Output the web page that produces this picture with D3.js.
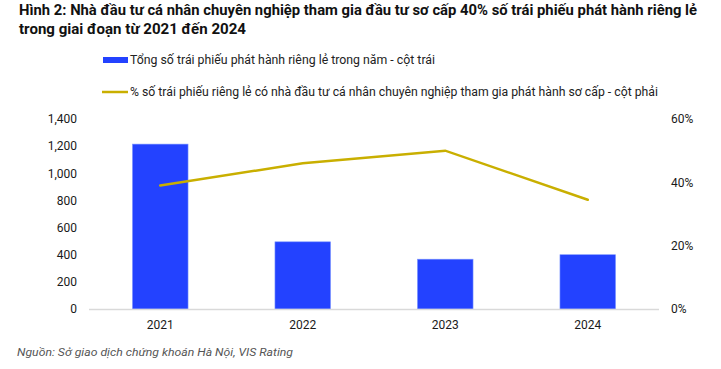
<!DOCTYPE html>
<html>
<head>
<meta charset="utf-8">
<script src="https://cdn.jsdelivr.net/npm/d3@7"></script>
<style>
  body { margin: 0; background: #fff; }
  text { font-family: Roboto, "Noto Sans", sans-serif; }
</style>
</head>
<body>
<svg width="721" height="369"></svg>
<script>
var years = ["2021", "2022", "2023", "2024"];
var bondCount = [1215, 495, 367, 400];
var proShare = [0.39, 0.46, 0.50, 0.345];
var leftTicks = [0, 200, 400, 600, 800, 1000, 1200, 1400];
var rightTicks = [0, 0.2, 0.4, 0.6];

var titleLines = [
    "Hình 2: Nhà đầu tư cá nhân chuyên nghiệp tham gia đầu tư sơ cấp 40% số trái phiếu phát hành riêng lẻ",
    "trong giai đoạn từ 2021 đến 2024"
];
var legendLabels = [
    "Tổng số trái phiếu phát hành riêng lẻ trong năm - cột trái",
    "% số trái phiếu riêng lẻ có nhà đầu tư cá nhân chuyên nghiệp tham gia phát hành sơ cấp - cột phải"
];
var sourceText = "Nguồn: Sở giao dịch chứng khoán Hà Nội, VIS Rating";

var svg = d3.select("svg");

var barColor = "#2342ff",
    lineColor = "#c9af00";

var x = d3.scaleBand()
    .domain(years)
    .range([89, 659])
    .paddingInner(0.61)
    .paddingOuter(0.305);

var yLeft = d3.scaleLinear().domain([0, 1400]).range([309, 119]);
var yRight = d3.scaleLinear().domain([0, 0.6]).range([309, 119]);

// title
svg.append("g").selectAll("text")
    .data(titleLines)
    .enter()
        .append("text")
        .attr("x", 19)
        .attr("y", function(d, i) { return 15 + i * 19; })
        .attr("font-size", 14)
        .attr("font-weight", "bold")
        .attr("fill", "#111")
        .attr("textLength", function(d, i) { return i == 0 ? 678 : 227; })
        .attr("lengthAdjust", "spacingAndGlyphs")
        .text(function(d) { return d; });

// legend
var legend = svg.append("g");
legend.append("rect")
    .attr("x", 103).attr("y", 57)
    .attr("width", 25).attr("height", 6)
    .attr("fill", barColor);
legend.append("line")
    .attr("x1", 102).attr("x2", 128)
    .attr("y1", 92).attr("y2", 92)
    .attr("stroke", lineColor)
    .attr("stroke-width", 2.5);
legend.selectAll("text")
    .data(legendLabels)
    .enter()
        .append("text")
        .attr("x", 130)
        .attr("y", function(d, i) { return 60 + i * 32; })
        .attr("dy", "0.35em")
        .attr("font-size", 12)
        .attr("fill", "#222")
        .attr("textLength", function(d, i) { return i == 0 ? 305 : 528; })
        .attr("lengthAdjust", "spacingAndGlyphs")
        .text(function(d) { return d; });

// axes
var axisLeft = svg.append("g")
    .attr("transform", "translate(77,0)")
    .call(d3.axisLeft(yLeft).tickValues(leftTicks).tickSize(0).tickPadding(0)
        .tickFormat(d3.format(",")));
var axisRight = svg.append("g")
    .attr("transform", "translate(671,0)")
    .call(d3.axisRight(yRight).tickValues(rightTicks).tickSize(0).tickPadding(0)
        .tickFormat(d3.format(".0%")));
var axisBottom = svg.append("g")
    .attr("transform", "translate(0,309)")
    .call(d3.axisBottom(x).tickSize(0).tickPadding(11));

[axisLeft, axisRight, axisBottom].forEach(function(a) {
    a.select(".domain").remove();
    a.selectAll("text")
        .attr("font-size", 12)
        .attr("font-family", "Roboto, sans-serif")
        .attr("fill", "#1a1a1a");
});

// bars
svg.append("g").selectAll("rect")
    .data(years)
    .enter()
        .append("rect")
        .attr("x", function(d) { return x(d); })
        .attr("y", function(d, i) { return yLeft(bondCount[i]); })
        .attr("width", x.bandwidth())
        .attr("height", function(d, i) { return yLeft(0) - yLeft(bondCount[i]); })
        .attr("fill", barColor)
        .attr("stroke", "#7b95ff")
        .attr("stroke-width", 0.6);

// baseline
svg.append("line")
    .attr("x1", 89).attr("x2", 659)
    .attr("y1", 309.5).attr("y2", 309.5)
    .attr("stroke", "#d9d9d9")
    .attr("stroke-width", 1.5);

// line series
var line = d3.line()
    .x(function(d, i) { return x(years[i]) + x.bandwidth() / 2; })
    .y(function(d) { return yRight(d); });

svg.append("path")
    .datum(proShare)
    .attr("d", line)
    .attr("fill", "none")
    .attr("stroke", lineColor)
    .attr("stroke-width", 2.5)
    .attr("stroke-linecap", "round");

// source
svg.append("text")
    .attr("x", 17)
    .attr("y", 352)
    .attr("dy", "0.35em")
    .attr("font-size", 11)
    .attr("font-style", "italic")
    .attr("fill", "#555")
    .attr("textLength", 276)
    .attr("lengthAdjust", "spacingAndGlyphs")
    .text(sourceText);
</script>
</body>
</html>
